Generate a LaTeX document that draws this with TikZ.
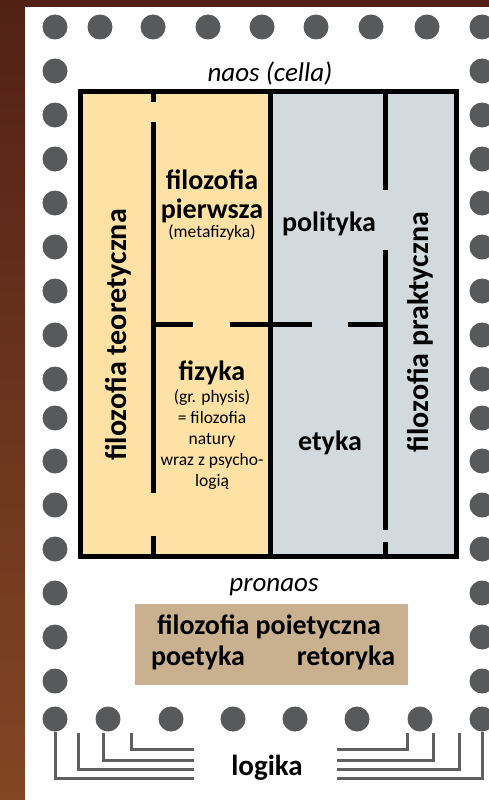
\documentclass[tikz,border=0pt]{standalone}
\usepackage{fontspec}
\setmainfont{Carlito}
\definecolor{wood}{RGB}{82,33,22}
\definecolor{woodLight}{RGB}{130,70,36}
\definecolor{column}{RGB}{88,89,91}
\definecolor{theory}{RGB}{254,225,165}
\definecolor{practice}{RGB}{211,218,222}
\definecolor{poiesis}{RGB}{201,176,143}
\definecolor{tieGrey}{RGB}{95,95,97}

\tikzset{
  wall/.style={line width=5pt, black},
  pillar/.style={circle, fill=column, minimum size=25pt, inner sep=0pt},
  big/.style={font=\fontsize{28}{29}\selectfont\bfseries, align=center, inner sep=0pt},
  side/.style={font=\fontsize{30}{32}\selectfont\bfseries, rotate=90, inner sep=0pt},
  small/.style={font=\fontsize{17.5}{21}\selectfont, align=center, inner sep=0pt},
  room/.style={font=\fontsize{27}{28}\selectfont\itshape, inner sep=0pt},
  tie/.style={line width=3pt, tieGrey},
}

\begin{document}
\begin{tikzpicture}[x=1pt, y=-1pt]

% ── Background ──
\shade[top color=wood, bottom color=woodLight] (0,0) rectangle (489,800);
\fill[white] (25,7) rectangle (489,800);
\useasboundingbox (0,0) rectangle (489,800);

% ═══════════════════════════════════════════
% NAOS: floor and walls
% ═══════════════════════════════════════════
\fill[theory] (80.5,91.5) rectangle (270.5,556);
\fill[practice] (270.5,91.5) rectangle (456.5,556);

\draw[wall] (80.5,91.5) rectangle (456.5,556);
\draw[wall] (270.5,91.5) -- (270.5,556);
\draw[wall] (153,91.5) -- (153,102) (153,122) -- (153,493) (153,536) -- (153,556);
\draw[wall] (385,91.5) -- (385,190) (385,250) -- (385,530) (385,542) -- (385,556);
\draw[wall] (153,324) -- (193,324) (230,324) -- (312,324) (348,324) -- (385,324);

% ── Columns ──
\foreach \x [count=\i] in {55,100,153,208,262,316,371,427,482}
  \node[pillar] (top\i) at (\x,27) {};
\foreach \y [count=\i] in {71,115,159,203,247,291,335,379,418,461,505,549,593,637,681} {
  \node[pillar] (left\i) at (55,\y) {};
  \node[pillar] (right\i) at (482,\y) {};
}
\foreach \x [count=\i] in {55,108,171,233,295,357,420,482}
  \node[pillar] (bot\i) at (\x,719) {};

% ── Labels ──
\node[room] (naos) at (270,73) {naos (cella)};
\node[side] (teoretyczna) at (118,335) {filozofia teoretyczna};
\node[side] (praktyczna) at (420,332) {filozofia praktyczna};
\node[big] (pierwsza) at (212,196) {filozofia\\pierwsza};
\node[small] (metafizyka) at (212,233) {(metafizyka)};
\node[big] (polityka) at (329,224) {polityka};
\node[big] (fizyka) at (212,373) {fizyka};
\node[small] (physis) at (212,440) {(gr. physis)\\= filozofia\\natury\\wraz z psycho-\\logią};
\node[big] (etyka) at (330,443) {etyka};

% ═══════════════════════════════════════════
% PRONAOS
% ═══════════════════════════════════════════
\node[room] (pronaos) at (274,587) {pronaos};
\fill[poiesis] (135,604) rectangle (408,685);
\node[big] (poietyczna) at (269,627) {filozofia poietyczna};
\node[big] (poetyka) at (198,658) {poetyka};
\node[big] (retoryka) at (346,658) {retoryka};

% ── Logic ties ──
\node[big, anchor=base, font=\fontsize{29}{30}\selectfont\bfseries] (logika) at (267,775) {logika};
\coordinate (endL1) at (194,778);
\coordinate (endR1) at (337,778);
\draw[tie] (bot1) |- (endL1);
\draw[tie] (bot8) |- (endR1);
\foreach \x/\y [count=\i] in {78/769,103/760,131/749} {
  \coordinate (tieL\i) at (\x,733);
  \coordinate (endL\i) at (194,\y);
  \draw[tie] (tieL\i) |- (endL\i);
}
\foreach \x/\y [count=\i] in {459/769,433/760,407/749} {
  \coordinate (tieR\i) at (\x,733);
  \coordinate (endR\i) at (337,\y);
  \draw[tie] (tieR\i) |- (endR\i);
}

\end{tikzpicture}
\end{document}
